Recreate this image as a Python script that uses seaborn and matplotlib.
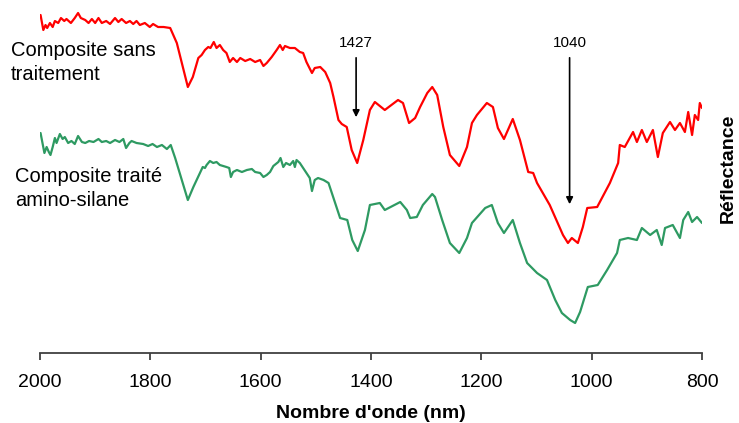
import matplotlib
matplotlib.use("Agg")
import matplotlib.pyplot as plt
import seaborn as sns
import pandas as pd

# wavenumber (x) and reflectance in arbitrary units (y)
red_wn = [1999, 1994, 1990, 1987, 1982, 1977, 1973, 1967, 1962, 1956, 1952, 1944, 1937,
          1931, 1926, 1918, 1912, 1906, 1900, 1894, 1888, 1880, 1873, 1864, 1858, 1852,
          1844, 1837, 1831, 1825, 1819, 1810, 1801, 1795, 1786, 1776, 1764, 1752, 1741,
          1732, 1723, 1713, 1707, 1701, 1695, 1691, 1685, 1680, 1674, 1668, 1662, 1656,
          1650, 1643, 1637, 1628, 1619, 1610, 1601, 1595, 1589, 1580, 1571, 1565, 1560,
          1556, 1547, 1538, 1529, 1523, 1517, 1507, 1502, 1492, 1483, 1474, 1468, 1459,
          1453, 1444, 1435, 1425, 1414, 1402, 1393, 1375, 1351, 1342, 1331, 1320, 1311,
          1298, 1289, 1280, 1269, 1257, 1240, 1226, 1217, 1208, 1190, 1179, 1170, 1159,
          1143, 1130, 1115, 1106, 1099, 1076, 1052, 1043, 1036, 1025, 1016, 1008, 990,
          967, 952, 949, 940, 925, 918, 909, 900, 889, 880, 871, 858, 849, 840, 831, 825,
          818, 813, 807, 804, 800]
red_refl = [3.38, 3.23, 3.28, 3.25, 3.30, 3.26, 3.32, 3.30, 3.35, 3.32, 3.34, 3.30, 3.35,
            3.40, 3.35, 3.33, 3.30, 3.34, 3.30, 3.35, 3.30, 3.32, 3.29, 3.35, 3.31, 3.34,
            3.30, 3.32, 3.29, 3.32, 3.28, 3.30, 3.26, 3.29, 3.26, 3.26, 3.25, 3.10, 2.86,
            2.66, 2.76, 2.95, 2.98, 3.03, 3.06, 3.05, 3.11, 3.05, 3.08, 3.03, 3.00, 2.91,
            2.95, 2.91, 2.95, 2.92, 2.94, 2.91, 2.93, 2.87, 2.90, 2.96, 3.03, 3.08, 3.03,
            3.07, 3.05, 3.05, 3.01, 3.00, 2.91, 2.80, 2.85, 2.86, 2.81, 2.70, 2.56, 2.33,
            2.29, 2.26, 2.03, 1.90, 2.13, 2.43, 2.51, 2.43, 2.53, 2.50, 2.30, 2.35, 2.46,
            2.60, 2.66, 2.58, 2.26, 1.98, 1.87, 2.06, 2.30, 2.38, 2.50, 2.46, 2.25, 2.14,
            2.34, 2.13, 1.81, 1.80, 1.70, 1.48, 1.18, 1.10, 1.15, 1.10, 1.26, 1.45, 1.46,
            1.70, 1.90, 2.08, 2.06, 2.21, 2.11, 2.23, 2.11, 2.23, 1.96, 2.20, 2.31, 2.23,
            2.30, 2.21, 2.41, 2.18, 2.38, 2.33, 2.50, 2.45]

green_wn = [1999, 1992, 1988, 1984, 1981, 1977, 1973, 1970, 1964, 1959, 1955, 1949, 1943,
            1937, 1931, 1924, 1918, 1911, 1903, 1894, 1888, 1880, 1873, 1864, 1856, 1849,
            1844, 1838, 1834, 1825, 1813, 1804, 1796, 1788, 1779, 1770, 1763, 1755, 1743,
            1732, 1722, 1716, 1710, 1705, 1701, 1698, 1692, 1686, 1680, 1674, 1662, 1657,
            1654, 1650, 1643, 1634, 1625, 1616, 1610, 1601, 1595, 1589, 1583, 1577, 1568,
            1564, 1559, 1554, 1547, 1541, 1538, 1535, 1529, 1523, 1517, 1511, 1507, 1502,
            1496, 1486, 1477, 1468, 1456, 1443, 1434, 1424, 1411,
            1402, 1384, 1375, 1347, 1335, 1329, 1317, 1306, 1289, 1284, 1271, 1257, 1240,
            1226, 1217, 1193, 1181, 1170, 1159, 1143, 1130, 1117, 1099, 1081, 1066, 1054,
            1039, 1030, 1021, 1007, 989, 972, 954, 949, 934, 918, 909, 894, 882, 873, 867,
            853, 840, 834, 825, 818, 809, 800]
green_refl = [2.20, 2.00, 2.06, 2.01, 1.98, 2.06, 2.15, 2.10, 2.19, 2.14, 2.16, 2.10, 2.12,
              2.09, 2.17, 2.11, 2.10, 2.12, 2.11, 2.14, 2.11, 2.12, 2.10, 2.13, 2.11, 2.14,
              2.05, 2.10, 2.12, 2.10, 2.09, 2.07, 2.09, 2.06, 2.08, 2.04, 2.08, 1.95, 1.73,
              1.53, 1.66, 1.73, 1.80, 1.86, 1.85, 1.88, 1.92, 1.90, 1.91, 1.88, 1.86, 1.85,
              1.76, 1.81, 1.83, 1.81, 1.83, 1.84, 1.81, 1.80, 1.76, 1.78, 1.81, 1.87, 1.91,
              1.95, 1.86, 1.90, 1.88, 1.92, 1.86, 1.93, 1.90, 1.85, 1.80, 1.75, 1.62, 1.73,
              1.75, 1.73, 1.70, 1.55, 1.35, 1.33, 1.13, 1.02, 1.23,
              1.48, 1.50, 1.43, 1.51, 1.43, 1.35, 1.36, 1.48, 1.59, 1.56, 1.33, 1.10, 1.00,
              1.15, 1.30, 1.45, 1.48, 1.30, 1.20, 1.33, 1.10, 0.90, 0.80, 0.73, 0.53, 0.40,
              0.33, 0.30, 0.41, 0.66, 0.68, 0.83, 1.00, 1.13, 1.15, 1.13, 1.25, 1.18, 1.23,
              1.08, 1.25, 1.28, 1.15, 1.33, 1.41, 1.31, 1.36, 1.30]

peaks = [1427, 1040]
xticks = [2000, 1800, 1600, 1400, 1200, 1000, 800]

red_df = pd.DataFrame({"wn": red_wn, "refl": red_refl})
green_df = pd.DataFrame({"wn": green_wn, "refl": green_refl})

sns.set_style("white")
plt.rcParams["font.family"] = ["Liberation Sans", "DejaVu Sans"]
plt.rcParams["text.color"] = "black"
plt.rcParams["axes.labelcolor"] = "black"
plt.rcParams["xtick.color"] = "black"

fig = plt.figure(figsize=(7.39, 4.23), dpi=100)
ax = fig.add_axes([40 / 739, 70 / 423, 662 / 739, 353 / 423])

sns.lineplot(data=red_df, x="wn", y="refl", ax=ax, color="#FF0000", lw=1.6, sort=False)
sns.lineplot(data=green_df, x="wn", y="refl", ax=ax, color="#2E9A62", lw=1.6, sort=False)

ax.set_xlim(2000, 800)
ax.set_ylim(0, 3.53)
ax.set_xticks(xticks)
ax.set_xticklabels([str(t) for t in xticks], fontsize=14)
ax.set_yticks([])
ax.set_ylabel("")
for s in ["top", "left", "right"]:
    ax.spines[s].set_visible(False)
ax.spines["bottom"].set_color("#404040")
ax.spines["bottom"].set_linewidth(1.3)
ax.tick_params(axis="x", direction="out", length=5, width=1.3, color="#404040",
               pad=10, bottom=True)

ax.set_xlabel("Nombre d'onde (nm)", fontsize=14, fontweight="bold", labelpad=10)
fig.text(728 / 739, 1 - 168 / 423, "Réflectance", fontsize=14, fontweight="bold",
         rotation=90, ha="center", va="center")

# peak markers
heads = [2.33, 1.46]
for p, h in zip(peaks, heads):
    ax.annotate("", xy=(p, h), xytext=(p, 2.98),
                arrowprops=dict(arrowstyle="-|>", color="black", lw=1.2, mutation_scale=10))
    ax.text(p, 3.03, str(p), ha="center", va="bottom", fontsize=11)

fig.text(11 / 739, 1 - 41 / 423, "Composite sans\ntraitement", fontsize=14.5,
         ha="left", va="top", linespacing=1.3)
fig.text(15 / 739, 1 - 167 / 423, "Composite traité\namino-silane", fontsize=14.5,
         ha="left", va="top", linespacing=1.3)

fig.savefig("out.png", dpi=100)
